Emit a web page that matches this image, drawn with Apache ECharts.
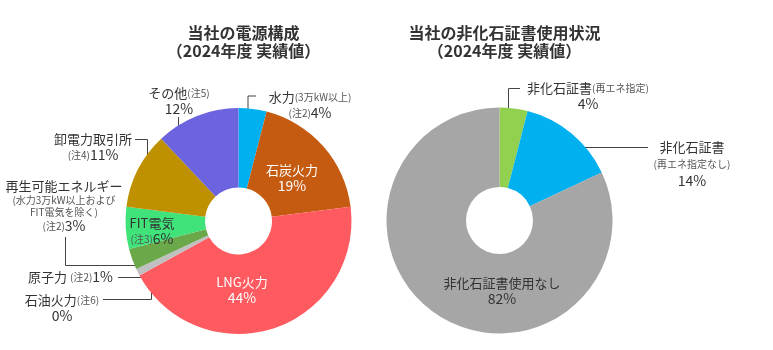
<!DOCTYPE html>
<html>
<head>
<meta charset="utf-8">
<script src="https://cdn.jsdelivr.net/npm/echarts@6/dist/echarts.min.js"></script>
<style>
  html, body { margin: 0; padding: 0; background: #fff; }
  #chart { width: 773px; height: 350px; }
</style>
</head>
<body>
<div id="chart"></div>
<script>
// 電源構成 (2024年度 実績値)
const mixNames = ['水力', '石炭火力', 'LNG火力', '石油火力', '原子力', '再生可能エネルギー', 'FIT電気', '卸電力取引所', 'その他'];
const mixValues = [4, 19, 44, 0, 1, 3, 6, 11, 12];
const mixLabels = [
  '{m|水力}{s|(3万kW以上)}\n{s|(注2)}{p|#%}',
  '{w|石炭火力}\n{wp|#%}',
  '{w|LNG火力}\n{wp|#%}',
  '{m|石油火力}{s|(注6)}\n{p|#%}',
  '{m|原子力 }{s|(注2)}{p|#%}',
  '{m|再生可能エネルギー}\n{s|(水力3万kW以上および}\n{s|FIT電気を除く)}\n{s|(注2)}{p|#%}',
  '{m|FIT電気}\n{s|(注3)}{p|#%}',
  '{m|卸電力取引所}\n{s|(注4)}{p|#%}',
  '{m|その他}{s|(注5)}\n{p|#%}'
];
const mixColors = ['#00b0ef', '#c55a11', '#ff5a5f', '#8c8c8c', '#c0c0c0', '#6aa84a', '#40e27a', '#bf9000', '#6c64df'];

// 非化石証書使用状況 (2024年度 実績値)
const certNames = ['非化石証書(再エネ指定)', '非化石証書(再エネ指定なし)', '非化石証書使用なし'];
const certValues = [4, 14, 82];
const certLabels = [
  '{m|非化石証書}{s|(再エネ指定)}\n{p|#%}',
  '{m|非化石証書}\n{s2|(再エネ指定なし)}\n{p|#%}',
  '{m|非化石証書使用なし}\n{p|#%}'
];
const certColors = ['#92d050', '#00b0ef', '#a6a6a6'];

// label anchors and leader lines, per series / data index
const labelPlacement = [
  [
    { x: 310, y: 105, line: [[256, 96], [248, 96], [248, 114]] },
    { x: 292, y: 178 },
    { x: 242, y: 290 },
    { x: 62, y: 308, line: [[103, 299.5], [151.5, 299.5], [151.5, 279]] },
    { x: 113, y: 277, align: 'right', line: [[118, 277.5], [150, 277.5]] },
    { x: 64, y: 206, line: [[65.5, 237], [65.5, 265.5], [141, 265.5]] },
    { x: 152, y: 231 },
    { x: 93, y: 147, line: [[135, 139.5], [147.5, 139.5], [147.5, 177]] },
    { x: 179, y: 101, line: [[178.5, 117], [178.5, 133]] }
  ],
  [
    { x: 588, y: 96, line: [[520, 88.5], [508.5, 88.5], [508.5, 127]] },
    { x: 692, y: 164, line: [[648, 147.5], [568, 147.5]] },
    { x: 502, y: 291 }
  ]
];

const richStyles = {
  m: { fontSize: 13, color: '#333', lineHeight: 16, fontFamily: 'Noto Sans CJK JP' },
  p: { fontSize: 14, color: '#333', lineHeight: 16, fontFamily: 'Noto Sans CJK JP' },
  s: { fontSize: 10, color: '#555', lineHeight: 12, fontFamily: 'Noto Sans CJK JP' },
  s2: { fontSize: 10, color: '#555', lineHeight: 18, fontFamily: 'Noto Sans CJK JP' },
  w: { fontSize: 13, color: '#fff', lineHeight: 16, fontFamily: 'Noto Sans CJK JP' },
  wp: { fontSize: 14, color: '#fff', lineHeight: 16, fontFamily: 'Noto Sans CJK JP' }
};

function buildData(names, values, labels, colors) {
  return names.map((n, i) => ({
    name: n,
    value: values[i],
    itemStyle: { color: colors[i] },
    label: { formatter: labels[i].replace('#', values[i]) }
  }));
}

function pieSeries(center, data) {
  return {
    type: 'pie',
    center: center,
    radius: [33.5, 113],
    startAngle: 90,
    clockwise: true,
    avoidLabelOverlap: false,
    silent: true,
    emphasis: { disabled: true },
    itemStyle: { borderWidth: 0 },
    label: {
      show: true,
      position: 'outside',
      rich: richStyles,
      fontFamily: 'Noto Sans CJK JP'
    },
    labelLine: { show: true, lineStyle: { color: '#444', width: 1 } },
    labelLayout: function (params) {
      const p = labelPlacement[params.seriesIndex][params.dataIndex];
      const out = {
        x: p.x,
        y: p.y,
        align: p.align || 'center',
        verticalAlign: 'middle',
        hideOverlap: false,
        moveOverlap: false
      };
      if (p.line) out.labelLinePoints = p.line;
      return out;
    },
    data: data
  };
}

const mixData = buildData(mixNames, mixValues, mixLabels, mixColors);
const certData = buildData(certNames, certValues, certLabels, certColors);
// slices labelled inside the ring carry no leader line
[1, 2, 6].forEach(i => { mixData[i].labelLine = { show: false }; });
certData[2].labelLine = { show: false };

const chart = echarts.init(document.getElementById('chart'), null, { renderer: 'canvas' });
chart.setOption({
  animation: false,
  backgroundColor: '#fff',
  title: [
    {
      text: '当社の電源構成\n（2024年度 実績値）',
      left: 238.5, top: 19, textAlign: 'center',
      textStyle: { fontSize: 16, fontWeight: 'bold', color: '#333', lineHeight: 18, fontFamily: 'Noto Sans CJK JP' }
    },
    {
      text: '当社の非化石証書使用状況\n（2024年度 実績値）',
      left: 499.5, top: 19, textAlign: 'center',
      textStyle: { fontSize: 16, fontWeight: 'bold', color: '#333', lineHeight: 18, fontFamily: 'Noto Sans CJK JP' }
    }
  ],
  series: [
    pieSeries([238.5, 221], mixData),
    pieSeries([499.5, 220.5], certData)
  ]
});
</script>
</body>
</html>
